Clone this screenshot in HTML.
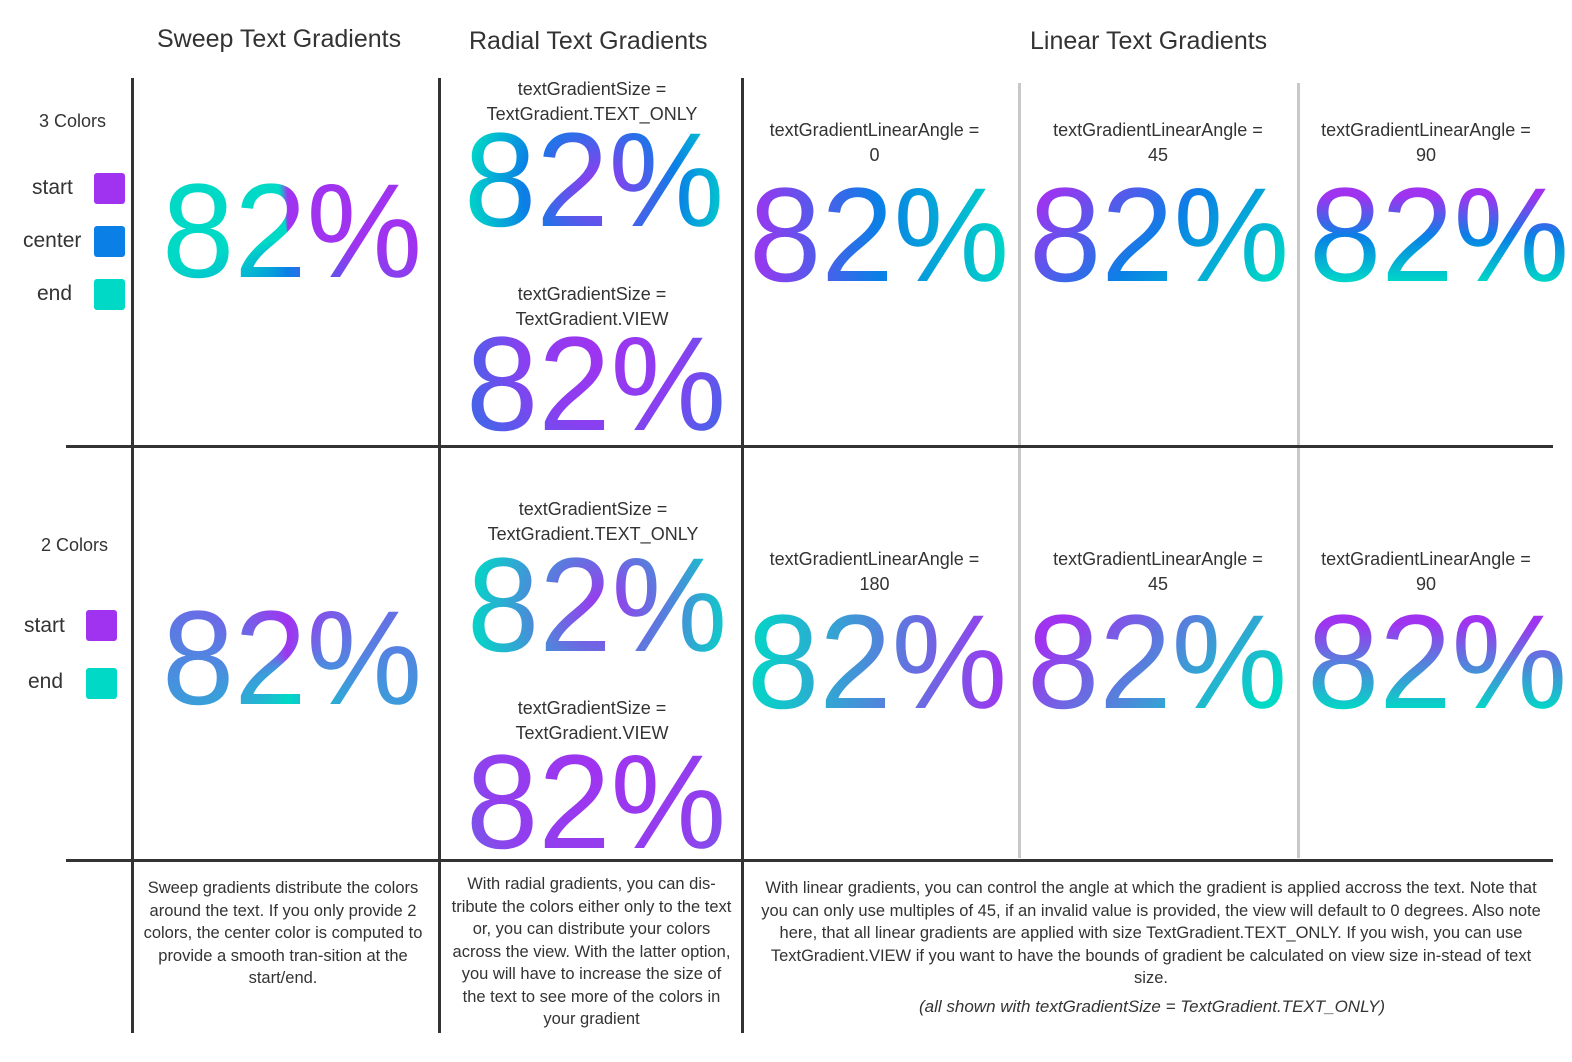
<!DOCTYPE html>
<html><head><meta charset="utf-8"><style>
body{margin:0;width:1572px;height:1062px;background:#fff;position:relative;overflow:hidden;font-family:"Liberation Sans",sans-serif;color:#333}
.t{position:absolute;font-size:25px;color:#333;white-space:nowrap}
.l{position:absolute;font-size:18px;text-align:center;line-height:25px;color:#333;white-space:nowrap}
.big{position:absolute;font-size:134px;line-height:1;white-space:nowrap;color:transparent;-webkit-background-clip:text;background-clip:text;transform-origin:0 0;transform:scaleX(0.97);width:270px}
.sq{position:absolute;width:31px;height:31px;border-radius:3px}
.vd{position:absolute;width:3px;background:#333}
.vg{position:absolute;width:3px;background:#c8c8c8}
.hd{position:absolute;height:3px;background:#333}
.d{position:absolute;font-size:16.5px;line-height:22.5px;text-align:center;color:#333}
</style></head><body>
<div class="t" style="left:157px;top:25px">Sweep Text Gradients</div>
<div class="t" style="left:469px;top:27px">Radial Text Gradients</div>
<div class="t" style="left:1030px;top:27px">Linear Text Gradients</div>

<div class="vd" style="left:131px;top:78px;height:955px"></div>
<div class="vd" style="left:438px;top:78px;height:955px"></div>
<div class="vd" style="left:741px;top:78px;height:955px"></div>
<div class="vg" style="left:1018px;top:83px;height:775px"></div>
<div class="vg" style="left:1297px;top:83px;height:775px"></div>
<div class="hd" style="left:66px;top:445px;width:1487px"></div>
<div class="hd" style="left:66px;top:859px;width:1487px"></div>

<div class="l" style="left:39px;top:109px">3 Colors</div>
<div class="l" style="left:32px;top:175px;font-size:21px">start</div>
<div class="sq" style="left:94px;top:173px;background:#a033f0"></div>
<div class="l" style="left:23px;top:228px;font-size:21px">center</div>
<div class="sq" style="left:94px;top:226px;background:#0a80e6"></div>
<div class="l" style="left:37px;top:281px;font-size:21px">end</div>
<div class="sq" style="left:94px;top:279px;background:#00d9c6"></div>

<div class="l" style="left:41px;top:533px">2 Colors</div>
<div class="l" style="left:24px;top:613px;font-size:21px">start</div>
<div class="sq" style="left:86px;top:610px;background:#a033f0"></div>
<div class="l" style="left:28px;top:669px;font-size:21px">end</div>
<div class="sq" style="left:86px;top:668px;background:#00d9c6"></div>

<div class="l" style="left:442px;top:77px;width:300px">textGradientSize =<br>TextGradient.TEXT_ONLY</div>
<div class="l" style="left:442px;top:282px;width:300px">textGradientSize =<br>TextGradient.VIEW</div>
<div class="l" style="left:738px;top:118px;width:273px">textGradientLinearAngle =<br>0</div>
<div class="l" style="left:1020px;top:118px;width:276px">textGradientLinearAngle =<br>45</div>
<div class="l" style="left:1300px;top:118px;width:252px">textGradientLinearAngle =<br>90</div>
<div class="l" style="left:443px;top:497px;width:300px">textGradientSize =<br>TextGradient.TEXT_ONLY</div>
<div class="l" style="left:442px;top:696px;width:300px">textGradientSize =<br>TextGradient.VIEW</div>
<div class="l" style="left:738px;top:547px;width:273px">textGradientLinearAngle =<br>180</div>
<div class="l" style="left:1020px;top:547px;width:276px">textGradientLinearAngle =<br>45</div>
<div class="l" style="left:1300px;top:547px;width:252px">textGradientLinearAngle =<br>90</div>

<div class="big" style="left:162px;top:165px;background-image:conic-gradient(from 0deg at 48% 55%,#a033f0 0deg,#a033f0 95deg,#0a80e6 180deg,#00d9c6 260deg,#00d9c6 350deg,#a033f0 360deg)">82%</div>
<div class="big" style="left:464px;top:114px;background-image:radial-gradient(circle at 52% 55%,#a033f0 0px,#0a80e6 80px,#00d9c6 140px)">82%</div>
<div class="big" style="left:466px;top:318px;background-image:radial-gradient(circle at 52% 20%,#a033f0 0px,#8a3ff0 80px,#3a6ae8 160px,#0a80e6 220px)">82%</div>
<div class="big" style="left:749px;top:169px;background-image:linear-gradient(90deg,#a033f0,#0a80e6 50%,#00d9c6)">82%</div>
<div class="big" style="left:1029px;top:169px;background-image:linear-gradient(135deg,#a033f0 10%,#0a80e6 50%,#00d9c6 90%)">82%</div>
<div class="big" style="left:1309px;top:169px;background-image:linear-gradient(180deg,#a033f0 20%,#0a80e6 50%,#00d9c6 85%)">82%</div>
<div class="big" style="left:162px;top:592px;background-image:conic-gradient(from 0deg at 48% 55%,#a033f0 0deg,#4d8ae0 90deg,#00d9c6 180deg,#4d8ae0 270deg,#a033f0 360deg)">82%</div>
<div class="big" style="left:467px;top:539px;background-image:radial-gradient(circle at 52% 50%,#a033f0 0px,#00d9c6 140px)">82%</div>
<div class="big" style="left:466px;top:736px;background-image:radial-gradient(circle at 52% 20%,#a033f0 0px,#9040ee 120px,#5080e0 220px)">82%</div>
<div class="big" style="left:747px;top:596px;background-image:linear-gradient(90deg,#00d9c6,#a033f0)">82%</div>
<div class="big" style="left:1027px;top:596px;background-image:linear-gradient(135deg,#a033f0 15%,#00d9c6 85%)">82%</div>
<div class="big" style="left:1307px;top:596px;background-image:linear-gradient(180deg,#a033f0 20%,#00d9c6 85%)">82%</div>

<div class="d" style="left:142px;top:877px;width:282px">Sweep gradients distribute the colors around the text. If you only provide 2 colors, the center color is computed to provide a smooth tran-sition at the start/end.</div>
<div class="d" style="left:449px;top:873px;width:285px">With radial gradients, you can dis-tribute the colors either only to the text or, you can distribute your colors across the view. With the latter option, you will have to increase the size of the text to see more of the colors in your gradient</div>
<div class="d" style="left:760px;top:877px;width:782px">With linear gradients, you can control the angle at which the gradient is applied accross the text. Note that you can only use multiples of 45, if an invalid value is provided, the view will default to 0 degrees. Also note here, that all linear gradients are applied with size TextGradient.TEXT_ONLY. If you wish, you can use TextGradient.VIEW if you want to have the bounds of gradient be calculated on view size in-stead of text size.</div>
<div class="d" style="left:752px;top:996px;width:800px;font-style:italic;font-size:17px">(all shown with textGradientSize = TextGradient.TEXT_ONLY)</div>
</body></html>
